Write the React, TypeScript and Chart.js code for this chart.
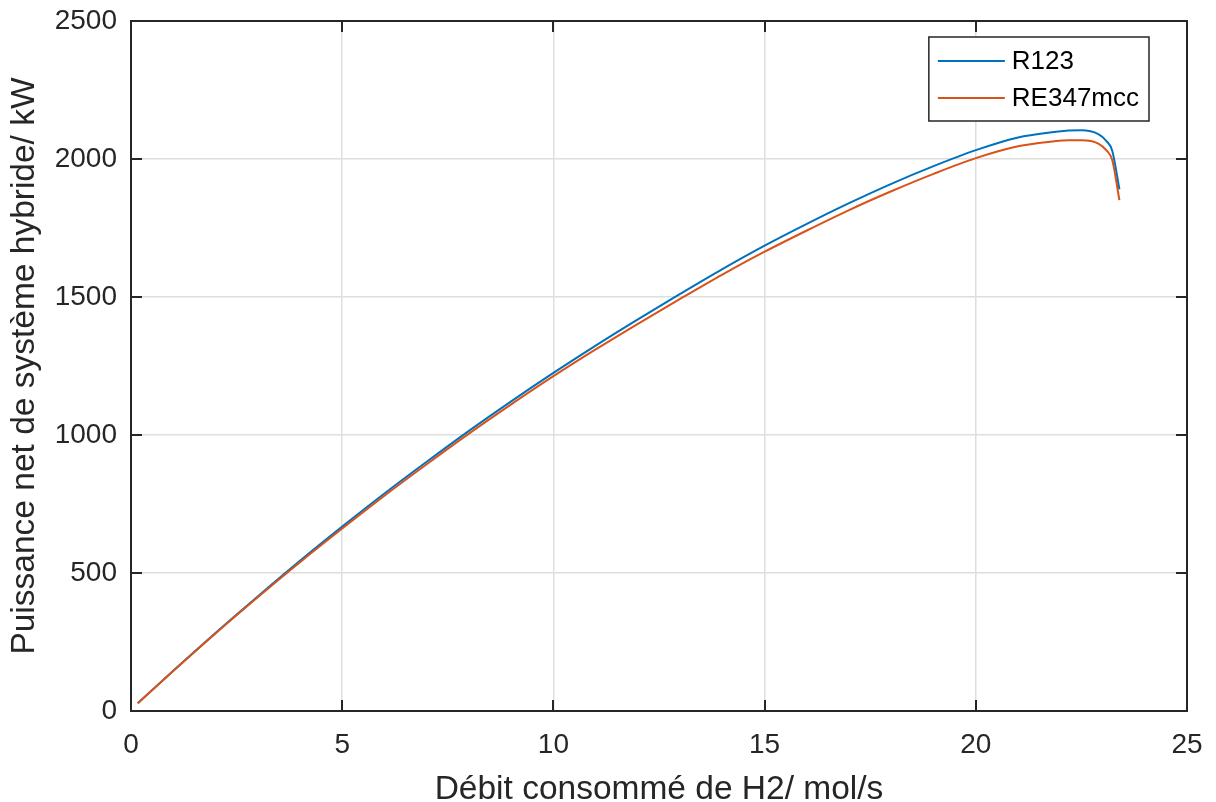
import React, { useEffect, useRef } from "react";
import { Chart, registerables } from "chart.js";

Chart.register(...registerables);

// Débit de H2 consommé (mol/s)
const debitH2 = [
  0.16, 1, 2, 3, 4, 5, 6, 7, 8, 9, 10, 11, 12, 13, 14, 15, 16, 17, 18, 19, 20,
  21, 21.8, 22.2, 22.5, 22.9, 23.1, 23.23, 23.4,
];

// Puissance nette du système hybride (kW) pour chaque fluide
const puissanceR123 = [
  28, 146, 283, 415, 544, 668, 788, 903, 1015, 1122, 1225, 1324, 1419, 1511,
  1601, 1686, 1765, 1840, 1910, 1974, 2032, 2078, 2097, 2103, 2104, 2090, 2064,
  2030, 1890,
];
const puissanceRE347mcc = [
  28, 145, 281, 412, 539, 661, 780, 894, 1005, 1111, 1213, 1310, 1403, 1493,
  1581, 1664, 1741, 1815, 1883, 1946, 2003, 2046, 2063, 2068, 2068, 2056, 2030,
  1996, 1851,
];

const seriesLabels = ["R123", "RE347mcc"];
const seriesColors = ["rgb(0,114,189)", "rgb(217,83,25)"];

const xTitle = "Débit consommé de H2/ mol/s";
const yTitle = "Puissance net de système hybride/ kW";

const FONT = "'Liberation Sans', Arial, Helvetica, sans-serif";
const INK = "#262626";

// Box around the axes with inward tick marks on all four sides
const framePlugin = {
  id: "axesFrame",
  afterDatasetsDraw(chart: any) {
    const { ctx, chartArea: a, scales } = chart;
    const len = 11;
    ctx.save();
    ctx.strokeStyle = INK;
    ctx.lineWidth = 2;
    ctx.beginPath();
    scales.x.ticks.forEach((t: any) => {
      const px = Math.round(scales.x.getPixelForValue(t.value));
      ctx.moveTo(px, a.bottom);
      ctx.lineTo(px, a.bottom - len);
      ctx.moveTo(px, a.top);
      ctx.lineTo(px, a.top + len);
    });
    scales.y.ticks.forEach((t: any) => {
      const py = Math.round(scales.y.getPixelForValue(t.value));
      ctx.moveTo(a.left, py);
      ctx.lineTo(a.left + len, py);
      ctx.moveTo(a.right, py);
      ctx.lineTo(a.right - len, py);
    });
    ctx.stroke();
    ctx.strokeRect(a.left, a.top, a.right - a.left, a.bottom - a.top);
    ctx.restore();
  },
};

// Legend box in the upper-right corner of the plot area
const legendPlugin = {
  id: "insideLegend",
  afterDraw(chart: any) {
    const { ctx, chartArea: a } = chart;
    const datasets = chart.data.datasets;
    ctx.save();
    ctx.font = `26px ${FONT}`;
    const maxText = Math.max(
      ...datasets.map((d: any) => ctx.measureText(d.label).width)
    );
    const sample = 67;
    const w = 9 + sample + 7 + maxText + 10;
    const rowH = 37;
    const h = 84;
    const x0 = a.right - 38 - w;
    const y0 = a.top + 16;
    ctx.fillStyle = "#ffffff";
    ctx.fillRect(x0, y0, w, h);
    ctx.strokeStyle = INK;
    ctx.lineWidth = 1.5;
    ctx.strokeRect(x0, y0, w, h);
    datasets.forEach((d: any, i: number) => {
      const cy = y0 + 24 + i * rowH;
      ctx.strokeStyle = d.borderColor;
      ctx.lineWidth = 2;
      ctx.beginPath();
      ctx.moveTo(x0 + 9, cy);
      ctx.lineTo(x0 + 9 + sample, cy);
      ctx.stroke();
      ctx.fillStyle = "#000000";
      ctx.textBaseline = "middle";
      ctx.textAlign = "left";
      ctx.fillText(d.label, x0 + 9 + sample + 7, cy + 1);
    });
    ctx.restore();
  },
};

const plainTick = (value: number | string) => String(value);

export default function App() {
  const canvasRef = useRef<HTMLCanvasElement | null>(null);

  useEffect(() => {
    const canvas = canvasRef.current;
    if (!canvas) return;
    const toPoints = (ys: number[]) => debitH2.map((x, i) => ({ x, y: ys[i] }));

    const chart = new Chart(canvas, {
      type: "line",
      data: {
        datasets: [
          {
            label: seriesLabels[0],
            data: toPoints(puissanceR123),
            borderColor: seriesColors[0],
            backgroundColor: seriesColors[0],
            borderWidth: 2,
            pointRadius: 0,
            cubicInterpolationMode: "monotone",
            order: 1,
          },
          {
            label: seriesLabels[1],
            data: toPoints(puissanceRE347mcc),
            borderColor: seriesColors[1],
            backgroundColor: seriesColors[1],
            borderWidth: 2,
            pointRadius: 0,
            cubicInterpolationMode: "monotone",
            order: 0,
          },
        ],
      },
      options: {
        responsive: false,
        animation: false,
        layout: { padding: { top: 21, right: 29, bottom: 0, left: 0 } },
        plugins: {
          legend: { display: false },
          tooltip: { enabled: false },
        },
        scales: {
          x: {
            type: "linear",
            min: 0,
            max: 25,
            ticks: {
              stepSize: 5,
              color: INK,
              padding: 17,
              font: { family: FONT, size: 28 },
              callback: plainTick,
            },
            grid: { color: "#dedede", lineWidth: 1.5, drawTicks: false },
            border: { display: false },
            title: {
              display: true,
              text: xTitle,
              color: INK,
              font: { family: FONT, size: 33.5, lineHeight: 0.73 },
              padding: { top: 0, bottom: 0 },
            },
            afterFit(scale: any) {
              scale.height = 91;
              scale.paddingLeft = 0;
              scale.paddingRight = 0;
            },
          },
          y: {
            type: "linear",
            min: 0,
            max: 2500,
            ticks: {
              stepSize: 500,
              color: INK,
              padding: 14,
              font: { family: FONT, size: 28 },
              callback: plainTick,
            },
            grid: { color: "#dedede", lineWidth: 1.5, drawTicks: false },
            border: { display: false },
            title: {
              display: true,
              text: yTitle,
              color: INK,
              font: { family: FONT, size: 33.5, lineHeight: 1 },
              padding: { top: 8, bottom: 0 },
            },
            afterFit(scale: any) {
              scale.width = 131;
              scale.paddingTop = 0;
              scale.paddingBottom = 0;
            },
          },
        },
      },
      plugins: [framePlugin, legendPlugin],
    });

    return () => chart.destroy();
  }, []);

  return (
    <div style={{ position: "absolute", left: 0, top: 0, width: 1216, height: 802, background: "#ffffff" }}>
      <canvas ref={canvasRef} width={1216} height={802} />
    </div>
  );
}
